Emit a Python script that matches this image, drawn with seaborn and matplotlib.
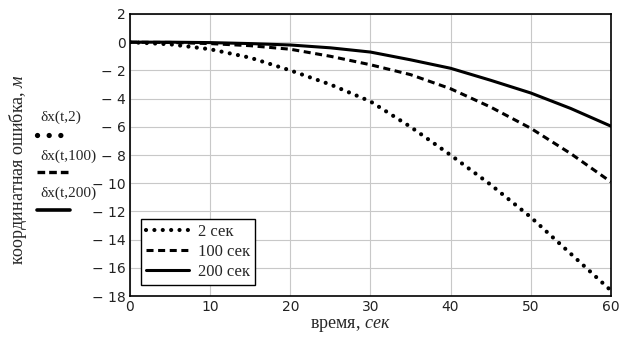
import numpy as np
import pandas as pd
import seaborn as sns
import matplotlib.pyplot as plt
from matplotlib.lines import Line2D

# время, сек
t = [0, 5, 10, 15, 20, 25, 30, 35, 40, 45, 50, 55, 60]
# координатная ошибка, м
err_2 = [0.0, -0.15, -0.5, -1.1, -2.0, -3.0, -4.2, -6.0, -8.0, -10.1, -12.4, -15.0, -17.6]
err_100 = [0.0, -0.02, -0.1, -0.25, -0.5, -1.0, -1.6, -2.3, -3.3, -4.6, -6.1, -7.9, -9.9]
err_200 = [0.0, 0.0, -0.03, -0.1, -0.2, -0.4, -0.7, -1.25, -1.85, -2.7, -3.6, -4.7, -5.95]
labels = ["2 сек", "100 сек", "200 сек"]
side_labels = ["δx(t,2)", "δx(t,100)", "δx(t,200)"]

xticks = [0, 10, 20, 30, 40, 50, 60]
yticks = [2, 0, -2, -4, -6, -8, -10, -12, -14, -16, -18]

sns.set_theme(style="white")
plt.rcParams["font.family"] = ["DejaVu Sans"]
plt.rcParams["mathtext.fontset"] = "custom"
plt.rcParams["mathtext.rm"] = "Liberation Serif"
plt.rcParams["mathtext.it"] = "Liberation Serif:italic"

fig = plt.figure(figsize=(6.22, 3.58), dpi=100)
ax = fig.add_axes([0.209, 0.173, 0.773, 0.788])

styles = [
    dict(linestyle=(0, (0.01, 2.0)), linewidth=3.0, dash_capstyle="round"),
    dict(linestyle=(0, (2.3, 1.5)), linewidth=2.2),
    dict(linestyle="-", linewidth=2.2),
]
for y, lab, st in zip([err_2, err_100, err_200], labels, styles):
    sns.lineplot(x=t, y=y, ax=ax, color="black", label=lab, **st)

ax.set_xlim(0, 60)
ax.set_ylim(-18, 2)
ax.set_xticks(xticks)
ax.set_yticks(yticks)
ax.set_xticklabels([str(v) for v in xticks], fontsize=10, color="#222222")
ax.set_yticklabels([("− " + str(-v)) if v < 0 else str(v) for v in yticks],
                   fontsize=10, color="#222222")
ax.tick_params(length=0, pad=3)
ax.grid(True, color="#c8c8c8", linewidth=0.8)
for s in ax.spines.values():
    s.set_color("black")
    s.set_linewidth(1.2)

ax.set_xlabel("")
ax.set_ylabel("")
fig.text(350 / 622, 1 - 325 / 358, r"время, $\mathit{сек}$", fontsize=13,
         family="Liberation Serif", ha="center", va="center")
fig.text(18 / 622, 1 - 170 / 358, r"координатная ошибка, $\mathit{м}$", fontsize=13,
         family="Liberation Serif", rotation=90, ha="center", va="center")

# Mathcad-style trace labels on the left
side_styles = [
    dict(linestyle=(0, (0.01, 2.2)), linewidth=3.8, dash_capstyle="round"),
    dict(linestyle=(0, (2.3, 1.2)), linewidth=2.4),
    dict(linestyle="-", linewidth=2.6),
]
ys_txt = [117, 156, 193]
ys_line = [135, 172, 210]
for lab, yt, yl, st in zip(side_labels, ys_txt, ys_line, side_styles):
    fig.text(40 / 622, 1 - yt / 358, lab, fontsize=11, family="Liberation Serif",
             ha="left", va="center")
    fig.add_artist(Line2D([37 / 622, 70 / 622], [1 - yl / 358, 1 - yl / 358],
                          color="black", transform=fig.transFigure, **st))

leg = ax.legend(loc="lower left", bbox_to_anchor=(0.023, 0.039), borderaxespad=0,
                fancybox=False, edgecolor="black", framealpha=1, handlelength=2.6,
                prop={"family": "Liberation Serif", "size": 12}, labelspacing=0.25,
                borderpad=0.3, handletextpad=0.5)
leg.get_frame().set_linewidth(1.0)

fig.savefig("out.png", dpi=100)
